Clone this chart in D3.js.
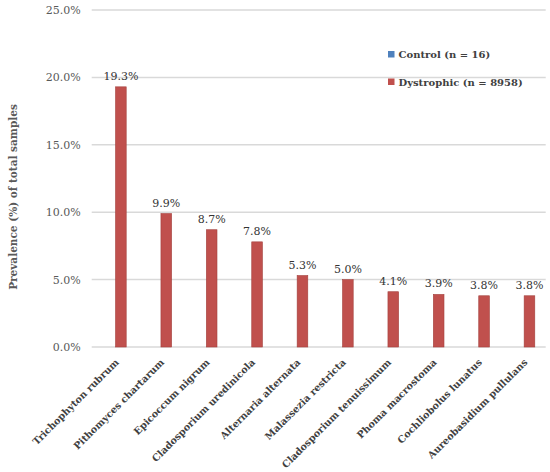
<!DOCTYPE html>
<html lang="en">

<head>
    <meta charset="utf-8">
    <title>Fungal prevalence</title>
    <script type="text/javascript" src="https://d3js.org/d3.v7.min.js"></script>
    <style>
        body {
            margin: 0;
            background: white;
        }

        text {
            font-family: "DejaVu Serif", serif;
        }

        .y.axis path,
        .y.axis line {
            display: none;
        }

        .x.axis path,
        .x.axis line {
            display: none;
        }
    </style>
</head>

<body>
    <div id="chart"></div>
    <script type="text/javascript">
        // chart data
        const species = ["Trichophyton rubrum", "Pithomyces chartarum", "Epicoccum nigrum",
            "Cladosporium uredinicola", "Alternaria alternata", "Malassezia restricta",
            "Cladosporium tenuissimum", "Phoma macrostoma", "Cochliobolus lunatus",
            "Aureobasidium pullulans"];
        const controlValues = [0, 0, 0, 0, 0, 0, 0, 0, 0, 0];
        const dystrophicValues = [19.3, 9.9, 8.7, 7.8, 5.3, 5.0, 4.1, 3.9, 3.8, 3.8];
        const seriesNames = ["Control (n = 16)", "Dystrophic (n = 8958)"];
        const yTicks = [0, 5, 10, 15, 20, 25];

        const width = 550;
        const height = 472;
        const margin = ({ left: 91.7, right: 4.3, top: 10, bottom: 125 });
        const colors = ["#4F81BD", "#C0504D"];

        const svg = d3.select("#chart")
            .append("svg")
            .attr("width", width)
            .attr("height", height);

        // build rows for grouped bars
        const data = species.map((s, i) => ({
            name: s,
            values: [controlValues[i], dystrophicValues[i]]
        }));

        const x0 = d3.scaleBand()
            .domain(species)
            .range([margin.left, width - margin.right])
            .padding(0);

        const x1 = d3.scaleBand()
            .domain([0, 1])
            .range([12, 34.5])
            .paddingInner(0.1);

        const y = d3.scaleLinear()
            .domain([0, 25])
            .range([height - margin.bottom, margin.top]);

        // gridlines
        svg.append("g")
            .attr("class", "grid")
            .selectAll("line")
            .data(yTicks)
            .enter()
            .append("line")
            .attr("x1", margin.left)
            .attr("x2", width - margin.right)
            .attr("y1", d => y(d))
            .attr("y2", d => y(d))
            .attr("stroke", "#d9d9d9")
            .attr("stroke-width", 1.5);

        // y axis
        const yAxis = d3.axisLeft(y)
            .tickValues(yTicks)
            .tickSize(0)
            .tickPadding(11)
            .tickFormat(d => d.toFixed(1) + "%");

        svg.append("g")
            .attr("class", "y axis")
            .attr("transform", `translate(${margin.left}, 0)`)
            .call(yAxis)
            .selectAll("text")
            .attr("font-family", "DejaVu Serif")
            .attr("font-size", 11)
            .attr("fill", "#595959");

        // x axis with rotated labels
        const xAxis = d3.axisBottom(x0).tickSize(0).tickPadding(0);
        svg.append("g")
            .attr("class", "x axis")
            .attr("transform", `translate(0, ${y(0)})`)
            .call(xAxis)
            .selectAll("text")
            .attr("font-family", "DejaVu Serif")
            .attr("font-size", 9.7)
            .attr("font-weight", "bold")
            .attr("fill", "#404040")
            .attr("text-anchor", "end")
            .attr("dy", 0)
            .attr("y", 0)
            .attr("transform", "translate(5, 16) rotate(-45)");

        // bars
        const groups = svg.append("g")
            .attr("class", "bars")
            .selectAll("g")
            .data(data)
            .enter()
            .append("g")
            .attr("transform", d => `translate(${x0(d.name)}, 0)`);

        groups.selectAll("rect")
            .data(d => d.values.map((v, i) => ({ v: v, i: i })))
            .enter()
            .append("rect")
            .attr("x", d => x1(d.i))
            .attr("y", d => y(d.v))
            .attr("width", x1.bandwidth())
            .attr("height", d => y(0) - y(d.v))
            .attr("fill", d => colors[d.i])
            .attr("stroke", d => d.i ? "#a3403d" : "#3f6a9c")
            .attr("stroke-width", d => d.v > 0 ? 0.6 : 0);

        // data labels (dystrophic series)
        groups.append("text")
            .attr("x", x1(1) + x1.bandwidth() / 2)
            .attr("y", d => y(d.values[1]) - 7)
            .attr("text-anchor", "middle")
            .attr("font-size", 11)
            .attr("fill", "#333333")
            .text(d => d.values[1].toFixed(1) + "%");

        // y axis title
        svg.append("text")
            .attr("transform", "translate(17, 197) rotate(-90)")
            .attr("text-anchor", "middle")
            .attr("font-size", 10.5)
            .attr("font-weight", "bold")
            .attr("fill", "#595959")
            .text("Prevalence (%) of total samples");

        // legend
        const legend = svg.append("g")
            .attr("class", "legend")
            .selectAll("g")
            .data(seriesNames)
            .enter()
            .append("g")
            .attr("transform", (d, i) => `translate(388, ${51 + i * 27.5})`);

        legend.append("rect")
            .attr("width", 6.5)
            .attr("height", 6.5)
            .attr("fill", (d, i) => colors[i]);

        legend.append("text")
            .attr("x", 10.5)
            .attr("y", 7)
            .attr("font-size", 10)
            .attr("font-weight", "bold")
            .attr("fill", "#404040")
            .text(d => d);
    </script>
</body>

</html>
